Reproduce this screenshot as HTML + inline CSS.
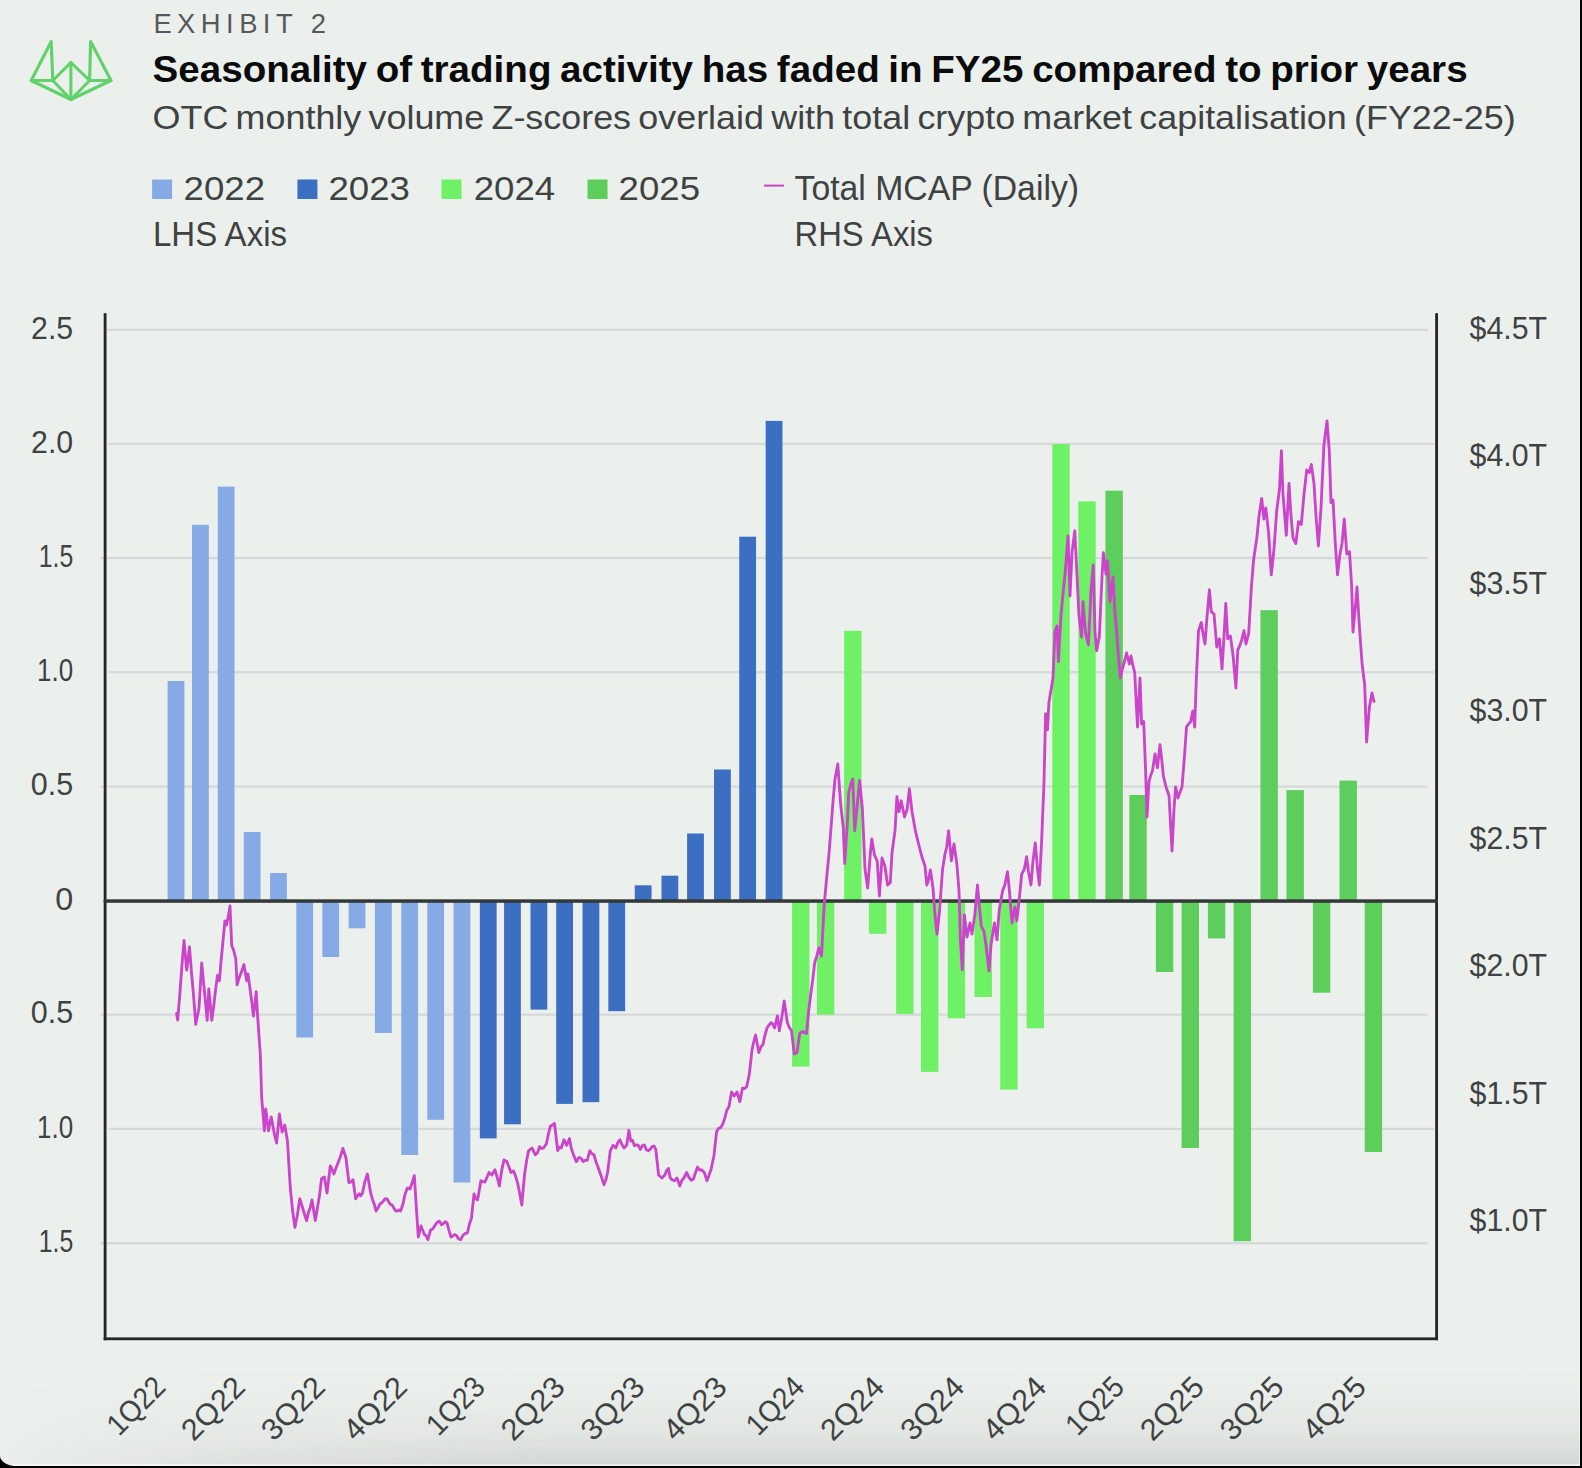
<!DOCTYPE html>
<html lang="en"><head><meta charset="utf-8"><title>Exhibit 2</title>
<style>
html,body{margin:0;padding:0;background:#000;}
body{width:1582px;height:1468px;overflow:hidden;position:relative;font-family:"Liberation Sans",sans-serif;}
#card{position:absolute;left:0;top:0;width:1580px;height:1465.6px;background:#ecf0ed;border-bottom-left-radius:16px 10.5px;overflow:hidden;}
#shade{position:absolute;left:0;bottom:0;width:100%;height:96px;background:linear-gradient(to bottom,rgba(100,106,106,0) 0%,rgba(100,106,106,0.025) 35%,rgba(100,106,106,0.08) 68%,rgba(100,106,106,0.19) 100%);-webkit-mask-image:linear-gradient(to right,rgba(0,0,0,0.05) 0%,rgba(0,0,0,0.55) 14%,#000 36%,#000 100%);mask-image:linear-gradient(to right,rgba(0,0,0,0.05) 0%,rgba(0,0,0,0.55) 14%,#000 36%,#000 100%);}
#edge{position:absolute;left:14px;right:0;bottom:0;height:1.2px;background:rgba(255,255,255,0.55);}
#edger{position:absolute;right:0;top:0;bottom:0;width:1px;background:rgba(255,255,255,0.5);}
svg{position:absolute;left:0;top:0;}
text{font-family:"Liberation Sans",sans-serif;fill:#3f4242;}
</style></head><body>
<div id="card"><div id="shade"></div><div id="edge"></div><div id="edger"></div>
<svg width="1582" height="1468" viewBox="0 0 1582 1468">
<g fill="none" stroke="#5fd269" stroke-width="3.1" stroke-linejoin="round" stroke-linecap="round">
<path d="M51.2 41.5 L31.2 80.5 L52.8 80.5 Z"/>
<path d="M90.6 41.5 L111 80.5 L89.6 80.5 Z"/>
<path d="M52.8 80.5 L70.9 62.5 L89.6 80.5"/>
<path d="M70.9 62.5 L70.9 99.5"/>
<path d="M31.2 80.5 L70.9 99.5 L111 80.5"/>
<path d="M52.8 80.5 L70.9 99.5 L89.6 80.5"/>
</g>
<text x="153.4" y="32.8" font-size="27.4" fill="#55585a" style="fill:#55585a" textLength="172.5" lengthAdjust="spacing">EXHIBIT 2</text>
<text x="152.6" y="82.3" font-size="37.2" font-weight="bold" style="fill:#0b0b0b;word-spacing:-2px" textLength="1315" lengthAdjust="spacingAndGlyphs">Seasonality of trading activity has faded in FY25 compared to prior years</text>
<text x="152.6" y="129" font-size="33" style="word-spacing:-2.5px" textLength="1363" lengthAdjust="spacingAndGlyphs">OTC monthly volume Z-scores overlaid with total crypto market capitalisation (FY22-25)</text>
<rect x="152.1" y="179.5" width="20" height="19.5" fill="#86aae6"/>
<text x="183.6" y="200.0" font-size="34" textLength="81.5" lengthAdjust="spacingAndGlyphs">2022</text>
<rect x="297.4" y="179.5" width="20" height="19.5" fill="#3c6fc1"/>
<text x="328.5" y="200.0" font-size="34" textLength="81.5" lengthAdjust="spacingAndGlyphs">2023</text>
<rect x="441.5" y="179.5" width="20" height="19.5" fill="#6ff165"/>
<text x="473.7" y="200.0" font-size="34" textLength="81.5" lengthAdjust="spacingAndGlyphs">2024</text>
<rect x="587.5" y="179.5" width="20" height="19.5" fill="#5dcd5c"/>
<text x="618.6" y="200.0" font-size="34" textLength="81.5" lengthAdjust="spacingAndGlyphs">2025</text>
<text x="153" y="245.9" font-size="34.2" textLength="134" lengthAdjust="spacingAndGlyphs">LHS Axis</text>
<rect x="764" y="184.6" width="20" height="2" fill="#cb45cb"/>
<text x="794.5" y="200.0" font-size="34.2" textLength="284.5" lengthAdjust="spacingAndGlyphs">Total MCAP (Daily)</text>
<text x="794.5" y="245.9" font-size="34.2" textLength="138.5" lengthAdjust="spacingAndGlyphs">RHS Axis</text>
<rect x="106.5" y="328.7" width="1321.5" height="2.3" fill="#d6d9d9"/>
<rect x="108.5" y="442.7" width="1326.0" height="2.3" fill="#d6d9d9"/>
<rect x="100.5" y="556.9" width="1327.0" height="2.3" fill="#d6d9d9"/>
<rect x="108.5" y="671.1" width="1326.0" height="2.3" fill="#d6d9d9"/>
<rect x="100.5" y="785.4" width="1327.0" height="2.3" fill="#d6d9d9"/>
<rect x="100.5" y="1013.5" width="1327.0" height="2.3" fill="#d6d9d9"/>
<rect x="108.5" y="1127.7" width="1326.0" height="2.3" fill="#d6d9d9"/>
<rect x="100.5" y="1242.1" width="1327.0" height="2.3" fill="#d6d9d9"/>
<rect x="167.60" y="681.0" width="16.8" height="220.0" fill="#86aae6"/>
<rect x="192.02" y="524.8" width="16.8" height="376.2" fill="#86aae6"/>
<rect x="217.74" y="486.6" width="16.8" height="414.4" fill="#86aae6"/>
<rect x="243.76" y="832.0" width="16.8" height="69.0" fill="#86aae6"/>
<rect x="270.08" y="873.0" width="16.8" height="28.0" fill="#86aae6"/>
<rect x="296.30" y="901.0" width="16.8" height="136.5" fill="#86aae6"/>
<rect x="322.32" y="901.0" width="16.8" height="56.0" fill="#86aae6"/>
<rect x="348.64" y="901.0" width="16.8" height="27.3" fill="#86aae6"/>
<rect x="374.96" y="901.0" width="16.8" height="132.0" fill="#86aae6"/>
<rect x="401.28" y="901.0" width="16.8" height="254.0" fill="#86aae6"/>
<rect x="427.30" y="901.0" width="16.8" height="218.8" fill="#86aae6"/>
<rect x="453.52" y="901.0" width="16.8" height="281.5" fill="#86aae6"/>
<rect x="479.84" y="901.0" width="16.8" height="237.4" fill="#3c6fc1"/>
<rect x="504.06" y="901.0" width="16.8" height="223.3" fill="#3c6fc1"/>
<rect x="530.48" y="901.0" width="16.8" height="108.6" fill="#3c6fc1"/>
<rect x="556.20" y="901.0" width="16.8" height="202.9" fill="#3c6fc1"/>
<rect x="582.52" y="901.0" width="16.8" height="201.2" fill="#3c6fc1"/>
<rect x="608.34" y="901.0" width="16.8" height="110.2" fill="#3c6fc1"/>
<rect x="634.76" y="885.3" width="16.8" height="15.7" fill="#3c6fc1"/>
<rect x="661.48" y="875.7" width="16.8" height="25.3" fill="#3c6fc1"/>
<rect x="687.10" y="833.5" width="16.8" height="67.5" fill="#3c6fc1"/>
<rect x="714.02" y="769.5" width="16.8" height="131.5" fill="#3c6fc1"/>
<rect x="739.24" y="536.7" width="16.8" height="364.3" fill="#3c6fc1"/>
<rect x="765.66" y="420.9" width="16.8" height="480.1" fill="#3c6fc1"/>
<rect x="792.08" y="901.0" width="17.4" height="165.6" fill="#6ff165"/>
<rect x="816.90" y="901.0" width="17.4" height="113.7" fill="#6ff165"/>
<rect x="844.12" y="630.8" width="17.4" height="270.2" fill="#6ff165"/>
<rect x="868.94" y="901.0" width="17.4" height="32.8" fill="#6ff165"/>
<rect x="896.16" y="901.0" width="17.4" height="112.9" fill="#6ff165"/>
<rect x="920.98" y="901.0" width="17.4" height="170.9" fill="#6ff165"/>
<rect x="947.70" y="901.0" width="17.4" height="117.3" fill="#6ff165"/>
<rect x="974.52" y="901.0" width="17.4" height="96.0" fill="#6ff165"/>
<rect x="1000.24" y="901.0" width="17.4" height="188.6" fill="#6ff165"/>
<rect x="1026.56" y="901.0" width="17.4" height="127.3" fill="#6ff165"/>
<rect x="1052.28" y="444.1" width="17.4" height="456.9" fill="#6ff165"/>
<rect x="1078.30" y="501.4" width="17.4" height="399.6" fill="#6ff165"/>
<rect x="1105.42" y="490.7" width="17.4" height="410.3" fill="#5dcd5c"/>
<rect x="1129.34" y="795.0" width="17.4" height="106.0" fill="#5dcd5c"/>
<rect x="1155.86" y="901.0" width="17.4" height="71.0" fill="#5dcd5c"/>
<rect x="1181.58" y="901.0" width="17.4" height="247.0" fill="#5dcd5c"/>
<rect x="1207.90" y="901.0" width="17.4" height="37.4" fill="#5dcd5c"/>
<rect x="1233.62" y="901.0" width="17.4" height="340.2" fill="#5dcd5c"/>
<rect x="1260.44" y="610.2" width="17.4" height="290.8" fill="#5dcd5c"/>
<rect x="1286.46" y="790.1" width="17.4" height="110.9" fill="#5dcd5c"/>
<rect x="1312.88" y="901.0" width="17.4" height="91.7" fill="#5dcd5c"/>
<rect x="1339.50" y="780.6" width="17.4" height="120.4" fill="#5dcd5c"/>
<rect x="1364.72" y="901.0" width="17.4" height="251.0" fill="#5dcd5c"/>
<rect x="103.7" y="313.2" width="2.8" height="1027" fill="#222625"/>
<rect x="1435.2" y="313.2" width="2.8" height="1027" fill="#222625"/>
<rect x="103.7" y="1337.4" width="1334.3" height="2.8" fill="#222625"/>
<rect x="103.7" y="899.3" width="1334.3" height="3.5" fill="#343938"/>
<path d="M176.6 1013.5 L177.7 1020.0 L179.8 994.5 L181.9 965.8 L184.0 940.5 L186.7 970.0 L189.5 946.8 L191.6 973.8 L193.6 996.0 L195.7 1024.4 L199.0 1008.0 L201.7 963.0 L203.5 982.2 L205.4 1001.1 L207.2 1020.3 L208.8 989.0 L211.8 1020.3 L213.7 1006.0 L215.6 989.5 L217.5 975.4 L219.4 980.8 L221.2 959.3 L223.1 940.1 L224.9 920.9 L226.5 925.0 L228.2 916.9 L230.0 905.9 L231.7 945.4 L233.8 950.8 L235.8 959.0 L237.1 984.9 L239.1 977.9 L241.2 972.6 L243.9 964.5 L246.7 980.8 L248.0 974.0 L250.8 994.4 L253.5 1016.0 L256.2 991.7 L257.6 1016.0 L260.3 1054.0 L261.7 1098.0 L264.4 1130.7 L265.7 1109.0 L268.5 1130.7 L271.2 1117.0 L273.0 1126.6 L274.8 1136.2 L276.6 1143.0 L279.4 1114.0 L282.1 1132.0 L284.8 1125.0 L287.5 1141.6 L290.3 1188.0 L292.6 1210.8 L294.9 1227.4 L297.4 1215.0 L299.8 1198.8 L301.5 1204.1 L303.2 1209.9 L304.9 1215.7 L306.6 1220.6 L308.4 1212.6 L310.2 1207.8 L312.0 1200.0 L315.3 1220.6 L317.4 1207.9 L319.5 1195.5 L321.6 1178.4 L324.3 1177.0 L327.0 1193.0 L330.3 1166.0 L332.1 1169.2 L333.9 1174.0 L335.9 1168.3 L338.0 1163.0 L340.4 1156.6 L342.9 1148.4 L346.0 1158.0 L348.9 1182.5 L350.9 1182.2 L353.0 1179.7 L355.7 1198.8 L357.4 1195.9 L359.1 1193.8 L360.8 1195.7 L362.5 1193.0 L364.9 1181.5 L367.4 1174.0 L370.7 1193.0 L372.5 1199.4 L374.2 1203.9 L376.0 1211.0 L378.0 1207.7 L380.0 1204.0 L381.8 1202.8 L383.5 1200.9 L385.2 1198.7 L387.0 1198.8 L388.7 1201.7 L390.4 1204.4 L392.1 1204.8 L393.8 1208.0 L395.5 1210.8 L397.2 1211.0 L398.9 1209.8 L400.6 1211.0 L402.9 1204.2 L405.1 1194.0 L407.4 1188.0 L410.0 1189.0 L412.1 1182.8 L414.3 1175.6 L416.3 1206.6 L418.3 1237.0 L421.0 1226.0 L422.7 1230.3 L424.4 1234.6 L426.2 1235.8 L427.9 1239.7 L430.6 1230.0 L432.9 1228.8 L435.1 1225.2 L437.4 1222.0 L439.4 1221.2 L441.5 1224.7 L443.3 1223.6 L445.2 1221.8 L447.0 1223.0 L449.0 1230.3 L451.0 1237.0 L452.8 1236.0 L454.7 1234.5 L456.5 1235.6 L458.6 1239.0 L460.6 1239.7 L462.9 1235.6 L465.1 1233.4 L467.4 1233.0 L469.4 1224.2 L471.5 1218.0 L474.0 1194.0 L475.8 1198.7 L477.6 1199.8 L480.9 1180.7 L482.9 1181.6 L485.0 1182.0 L487.0 1177.2 L489.0 1172.5 L491.8 1175.0 L495.0 1169.8 L497.2 1177.4 L499.4 1186.0 L501.7 1170.4 L504.0 1160.0 L506.8 1161.6 L508.9 1166.8 L510.9 1172.5 L513.6 1171.0 L515.7 1176.4 L517.7 1183.4 L519.8 1193.7 L521.8 1205.0 L524.5 1175.0 L526.5 1161.2 L528.6 1150.7 L532.0 1148.0 L535.4 1154.8 L537.5 1152.7 L539.5 1146.6 L541.5 1148.6 L543.6 1148.0 L546.3 1143.9 L548.3 1134.7 L550.4 1126.0 L552.5 1125.0 L554.5 1123.5 L557.7 1150.7 L559.5 1147.2 L561.3 1148.0 L564.0 1139.8 L566.7 1145.3 L569.5 1138.5 L571.2 1148.0 L573.0 1153.5 L576.3 1161.6 L579.0 1157.5 L581.0 1158.1 L583.0 1161.6 L585.1 1160.3 L587.2 1160.3 L589.9 1150.7 L592.0 1153.8 L594.0 1154.8 L596.0 1161.9 L598.0 1167.0 L600.8 1175.0 L604.0 1184.8 L605.8 1180.1 L607.6 1172.5 L610.3 1150.7 L613.0 1145.3 L615.8 1148.0 L617.8 1142.5 L619.9 1139.8 L622.0 1144.8 L624.0 1148.0 L626.7 1145.3 L628.9 1130.3 L630.8 1141.0 L632.6 1140.4 L634.4 1145.8 L636.2 1145.0 L638.2 1145.1 L640.3 1149.4 L642.3 1145.7 L644.4 1145.0 L646.5 1150.0 L648.5 1150.7 L650.2 1149.4 L652.0 1146.6 L653.9 1146.0 L655.8 1149.4 L658.6 1175.0 L662.0 1178.0 L664.8 1175.0 L666.6 1170.6 L668.4 1168.4 L670.3 1178.0 L672.3 1180.0 L674.4 1180.7 L677.0 1178.0 L679.8 1186.0 L681.8 1180.5 L683.9 1178.0 L686.6 1172.5 L689.3 1178.0 L691.3 1180.3 L693.4 1179.0 L695.5 1172.7 L697.5 1167.0 L699.5 1170.0 L701.6 1169.8 L704.3 1172.5 L707.0 1180.7 L709.0 1175.2 L711.0 1169.8 L713.9 1156.0 L716.6 1131.7 L718.7 1128.2 L720.7 1127.6 L722.8 1124.0 L724.8 1118.0 L726.8 1110.3 L728.9 1107.0 L731.6 1092.0 L734.3 1096.0 L737.0 1092.0 L739.8 1101.7 L742.5 1088.0 L744.5 1088.7 L746.6 1086.7 L749.3 1074.4 L752.0 1050.0 L753.8 1041.6 L755.6 1035.0 L758.8 1052.6 L760.9 1046.9 L763.0 1044.5 L765.0 1035.0 L767.0 1028.0 L769.0 1025.1 L771.0 1022.7 L772.8 1024.2 L774.6 1028.0 L777.4 1015.9 L779.3 1030.8 L781.8 1017.4 L784.2 1000.9 L787.4 1022.7 L789.5 1027.7 L791.5 1030.8 L794.3 1054.0 L797.0 1052.6 L799.7 1033.6 L801.8 1031.8 L803.8 1032.0 L806.5 1033.6 L808.5 1012.6 L810.6 995.4 L812.7 980.2 L814.7 962.7 L816.8 955.8 L818.8 948.0 L821.5 956.0 L824.2 904.4 L827.0 874.4 L829.0 853.6 L831.0 828.0 L833.0 801.7 L835.0 779.0 L837.8 764.0 L840.6 803.5 L843.3 828.0 L844.7 863.5 L847.4 822.6 L848.7 792.6 L850.8 784.2 L852.8 779.0 L854.7 830.8 L856.9 809.0 L859.6 780.4 L862.4 809.0 L865.0 869.0 L867.7 888.0 L870.4 852.6 L871.8 839.0 L874.5 855.0 L877.2 860.8 L879.4 896.0 L882.0 858.0 L884.9 866.0 L887.6 885.0 L890.3 882.6 L892.0 852.6 L895.0 830.8 L896.9 796.7 L899.0 811.7 L901.2 800.8 L904.5 817.0 L907.2 809.0 L909.4 788.6 L912.0 811.7 L915.4 830.8 L918.0 841.7 L921.4 855.0 L923.2 860.8 L925.0 866.0 L926.8 885.0 L928.6 879.6 L930.4 870.0 L933.0 888.0 L935.0 915.0 L937.0 934.0 L939.4 912.5 L942.6 869.0 L944.8 855.0 L946.7 847.0 L948.6 830.8 L951.4 860.8 L954.0 844.0 L956.8 863.5 L959.0 890.7 L960.4 939.8 L962.3 969.8 L964.4 915.0 L967.0 937.0 L970.0 923.0 L972.0 934.0 L974.8 915.0 L977.5 885.0 L979.4 907.0 L981.3 926.0 L984.0 931.6 L986.0 945.0 L989.0 971.0 L991.0 945.0 L994.4 923.0 L997.0 939.8 L999.3 909.8 L1002.6 890.7 L1004.8 885.0 L1007.5 871.7 L1009.4 890.7 L1012.0 923.0 L1014.9 907.0 L1016.8 920.7 L1019.0 901.6 L1021.7 874.0 L1024.4 869.0 L1026.6 856.7 L1028.5 871.7 L1031.0 885.0 L1033.0 860.8 L1035.3 843.0 L1037.5 869.0 L1039.4 885.0 L1041.6 841.7 L1044.0 781.7 L1045.6 713.6 L1047.5 729.7 L1048.9 702.5 L1051.0 689.9 L1053.0 678.0 L1054.9 631.6 L1057.0 626.0 L1058.4 661.6 L1061.0 615.0 L1063.0 593.9 L1065.0 574.4 L1068.0 536.0 L1070.0 596.0 L1072.0 552.6 L1074.8 530.8 L1076.7 569.0 L1078.9 615.0 L1081.6 637.0 L1083.0 601.6 L1085.7 634.0 L1088.4 645.0 L1091.0 590.7 L1093.3 564.9 L1095.0 631.6 L1096.6 650.7 L1099.3 637.0 L1102.0 577.0 L1103.4 552.6 L1106.0 574.0 L1107.5 560.8 L1110.0 601.6 L1113.0 577.0 L1114.9 612.5 L1116.7 631.4 L1118.4 656.0 L1120.3 678.0 L1122.0 670.1 L1123.8 664.0 L1126.6 653.0 L1129.3 664.0 L1131.0 656.0 L1132.8 665.2 L1134.7 672.5 L1137.5 727.0 L1140.0 678.0 L1141.6 724.0 L1143.7 721.5 L1145.6 770.6 L1147.0 817.0 L1149.0 781.7 L1150.8 775.0 L1152.5 770.8 L1155.0 754.0 L1157.4 767.8 L1160.0 744.7 L1161.7 759.4 L1163.4 776.0 L1166.0 787.0 L1169.0 795.4 L1172.0 851.0 L1174.0 809.0 L1175.6 787.0 L1178.0 798.0 L1180.0 792.2 L1182.0 787.0 L1184.6 754.5 L1186.5 727.0 L1188.5 723.9 L1190.6 721.8 L1192.8 711.0 L1194.7 727.0 L1196.3 679.7 L1198.5 630.7 L1201.3 622.5 L1203.2 634.5 L1205.0 644.0 L1207.0 617.0 L1209.4 589.8 L1211.3 611.6 L1214.0 614.0 L1216.8 647.0 L1219.5 638.8 L1222.0 668.8 L1223.9 638.7 L1225.8 603.4 L1227.7 638.8 L1230.4 636.0 L1233.0 655.0 L1235.9 688.0 L1237.8 649.8 L1239.5 646.3 L1241.3 641.6 L1244.0 630.7 L1246.0 644.0 L1248.7 633.4 L1251.4 587.0 L1253.6 559.8 L1256.8 538.0 L1259.0 516.0 L1261.7 498.5 L1263.9 519.0 L1265.8 508.0 L1268.6 532.6 L1271.3 574.8 L1274.0 549.0 L1276.7 510.8 L1279.5 489.0 L1281.4 450.8 L1283.0 494.4 L1286.3 535.3 L1289.0 483.5 L1291.0 516.0 L1293.0 538.0 L1295.8 543.5 L1298.5 521.7 L1301.3 524.4 L1304.0 494.4 L1306.7 470.0 L1309.4 472.6 L1311.3 464.5 L1314.0 483.5 L1316.0 516.0 L1318.4 546.0 L1321.0 508.0 L1323.9 445.4 L1327.0 420.9 L1329.3 450.8 L1331.0 502.6 L1333.0 500.0 L1335.3 543.5 L1337.5 574.8 L1340.0 554.0 L1342.0 543.5 L1344.3 519.0 L1346.8 554.0 L1349.5 551.7 L1351.7 587.0 L1353.0 632.0 L1355.7 603.0 L1357.0 587.0 L1359.3 625.0 L1362.0 663.0 L1364.7 685.0 L1366.6 742.0 L1369.4 707.0 L1372.0 693.0 L1374.0 701.5" fill="none" stroke="#cb45cb" stroke-width="2.85" stroke-linejoin="round" stroke-linecap="round"/>
<text x="31.1" y="338.6" font-size="30.5" textLength="42.1" lengthAdjust="spacingAndGlyphs">2.5</text>
<text x="31.1" y="452.6" font-size="30.5" textLength="42.1" lengthAdjust="spacingAndGlyphs">2.0</text>
<text x="38.7" y="566.8" font-size="30.5" textLength="34.5" lengthAdjust="spacingAndGlyphs">1.5</text>
<text x="37.1" y="681.0" font-size="30.5" textLength="36.1" lengthAdjust="spacingAndGlyphs">1.0</text>
<text x="30.8" y="795.3" font-size="30.5" textLength="42.4" lengthAdjust="spacingAndGlyphs">0.5</text>
<text x="55.2" y="909.8" font-size="30.5" textLength="18.0" lengthAdjust="spacingAndGlyphs">0</text>
<text x="30.8" y="1023.4" font-size="30.5" textLength="42.4" lengthAdjust="spacingAndGlyphs">0.5</text>
<text x="37.1" y="1137.6" font-size="30.5" textLength="36.1" lengthAdjust="spacingAndGlyphs">1.0</text>
<text x="38.7" y="1252.0" font-size="30.5" textLength="34.5" lengthAdjust="spacingAndGlyphs">1.5</text>
<text x="1469.6" y="338.5" font-size="30.5" textLength="77.5" lengthAdjust="spacingAndGlyphs">$4.5T</text>
<text x="1469.6" y="466.0" font-size="30.5" textLength="77.5" lengthAdjust="spacingAndGlyphs">$4.0T</text>
<text x="1469.6" y="593.5" font-size="30.5" textLength="77.5" lengthAdjust="spacingAndGlyphs">$3.5T</text>
<text x="1469.6" y="721.0" font-size="30.5" textLength="77.5" lengthAdjust="spacingAndGlyphs">$3.0T</text>
<text x="1469.6" y="848.5" font-size="30.5" textLength="77.5" lengthAdjust="spacingAndGlyphs">$2.5T</text>
<text x="1469.6" y="976.0" font-size="30.5" textLength="77.5" lengthAdjust="spacingAndGlyphs">$2.0T</text>
<text x="1469.6" y="1103.5" font-size="30.5" textLength="77.5" lengthAdjust="spacingAndGlyphs">$1.5T</text>
<text x="1469.6" y="1231.0" font-size="30.5" textLength="77.5" lengthAdjust="spacingAndGlyphs">$1.0T</text>
<text transform="translate(167.1 1388.8) rotate(-45)" x="-68.0" y="0" font-size="30" textLength="68.0" lengthAdjust="spacingAndGlyphs">1Q22</text>
<text transform="translate(247.0 1388.8) rotate(-45)" x="-75.5" y="0" font-size="30" textLength="75.5" lengthAdjust="spacingAndGlyphs">2Q22</text>
<text transform="translate(326.9 1388.8) rotate(-45)" x="-75.5" y="0" font-size="30" textLength="75.5" lengthAdjust="spacingAndGlyphs">3Q22</text>
<text transform="translate(409.0 1388.8) rotate(-45)" x="-75.5" y="0" font-size="30" textLength="75.5" lengthAdjust="spacingAndGlyphs">4Q22</text>
<text transform="translate(486.7 1388.8) rotate(-45)" x="-68.0" y="0" font-size="30" textLength="68.0" lengthAdjust="spacingAndGlyphs">1Q23</text>
<text transform="translate(566.6 1388.8) rotate(-45)" x="-75.5" y="0" font-size="30" textLength="75.5" lengthAdjust="spacingAndGlyphs">2Q23</text>
<text transform="translate(646.5 1388.8) rotate(-45)" x="-75.5" y="0" font-size="30" textLength="75.5" lengthAdjust="spacingAndGlyphs">3Q23</text>
<text transform="translate(728.6 1388.8) rotate(-45)" x="-75.5" y="0" font-size="30" textLength="75.5" lengthAdjust="spacingAndGlyphs">4Q23</text>
<text transform="translate(806.3 1388.8) rotate(-45)" x="-68.0" y="0" font-size="30" textLength="68.0" lengthAdjust="spacingAndGlyphs">1Q24</text>
<text transform="translate(886.2 1388.8) rotate(-45)" x="-75.5" y="0" font-size="30" textLength="75.5" lengthAdjust="spacingAndGlyphs">2Q24</text>
<text transform="translate(966.1 1388.8) rotate(-45)" x="-75.5" y="0" font-size="30" textLength="75.5" lengthAdjust="spacingAndGlyphs">3Q24</text>
<text transform="translate(1048.2 1388.8) rotate(-45)" x="-75.5" y="0" font-size="30" textLength="75.5" lengthAdjust="spacingAndGlyphs">4Q24</text>
<text transform="translate(1125.9 1388.8) rotate(-45)" x="-68.0" y="0" font-size="30" textLength="68.0" lengthAdjust="spacingAndGlyphs">1Q25</text>
<text transform="translate(1205.8 1388.8) rotate(-45)" x="-75.5" y="0" font-size="30" textLength="75.5" lengthAdjust="spacingAndGlyphs">2Q25</text>
<text transform="translate(1285.7 1388.8) rotate(-45)" x="-75.5" y="0" font-size="30" textLength="75.5" lengthAdjust="spacingAndGlyphs">3Q25</text>
<text transform="translate(1367.8 1388.8) rotate(-45)" x="-75.5" y="0" font-size="30" textLength="75.5" lengthAdjust="spacingAndGlyphs">4Q25</text>
</svg></div>
</body></html>
